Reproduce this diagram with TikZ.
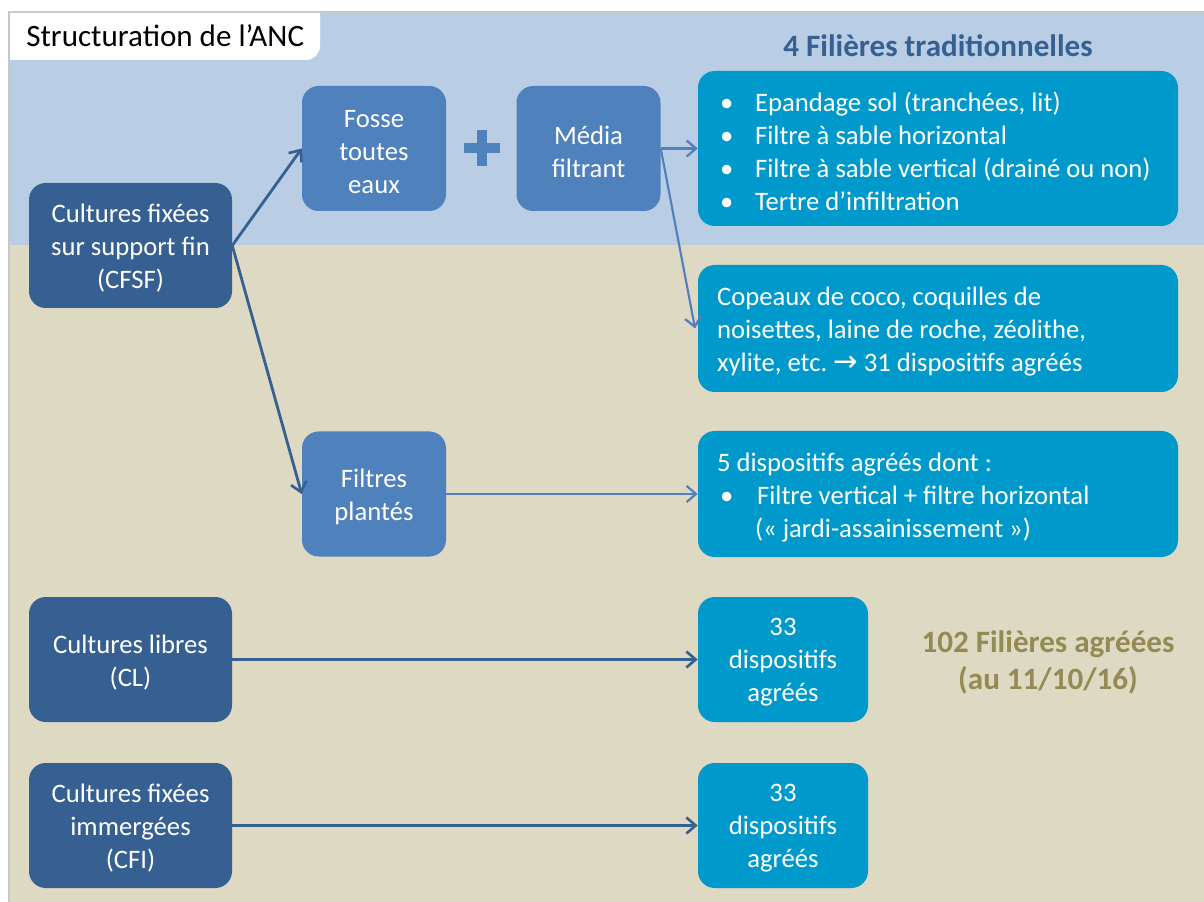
\documentclass[tikz,border=0pt]{standalone}
\usepackage{fontspec}
\setmainfont{Carlito}
\newfontfamily\djv{DejaVu Sans}
\usetikzlibrary{arrows.meta}

\definecolor{bandblue}{HTML}{B9CDE5}
\definecolor{bandtan}{HTML}{DDD9C3}
\definecolor{darkbx}{HTML}{376092}
\definecolor{midbx}{HTML}{4F81BD}
\definecolor{cyanbx}{HTML}{0099CC}
\definecolor{olivetxt}{HTML}{948A54}
\definecolor{framegray}{HTML}{C8C8C8}

\begin{document}
\frenchspacing
\begin{tikzpicture}[x=0.75pt,y=-0.75pt,
  box/.style={rounded corners=12.5pt, inner sep=0pt},
  boxtxt/.style={text=white, font=\fontsize{20}{24.75}\selectfont, align=center, inner sep=0pt, yshift=-2.3pt},
  widetxt/.style={boxtxt, text width=334pt, align=flush left},
  darkbox/.style={box, fill=darkbx, minimum width=152.25pt, minimum height=93.75pt},
  midbox/.style={box, fill=midbx, minimum width=108pt, minimum height=93.75pt},
  cyanbox/.style={box, fill=cyanbx},
  widebox/.style={cyanbox, minimum width=360pt},
  arrdark/.style={-{Straight Barb[length=7pt,width=12pt,line width=2pt]}, line width=2.1pt, draw=darkbx},
  arrmid/.style={-{Straight Barb[length=7pt,width=12pt,line width=1.7pt]}, line width=1.6pt, draw=midbx},
]
% canvas
\path[use as bounding box, fill=white] (0,0) rectangle (1204,902);
\fill[bandtan] (9,245) rectangle (1204,902);
\fill[bandblue] (9,12) rectangle (1204,245);
% title tab
\fill[white] (9,12) -- (320,12) [rounded corners=10.5pt] -- (320,60) [sharp corners] -- (9,60) -- cycle;
\draw[framegray, line width=0.9pt] (9,902) -- (9,12) -- (1204,12);
\node[anchor=base west, font=\fontsize{23.3}{28}\selectfont, inner sep=0pt] (title) at (26,47) {Structuration de l’ANC};

% headings
\node[font=\fontsize{23.3}{28}\selectfont\bfseries, text=darkbx, inner sep=0pt] (head1) at (938,46) {4 Filières traditionnelles};
\node[font=\fontsize{23.3}{27.75}\selectfont\bfseries, text=olivetxt, align=center, inner sep=0pt] (head2) at (1048,662) {102 Filières agréées\\(au 11/10/16)};

% left boxes
\node[darkbox, label={[boxtxt, name=cfsf-t]center:{Cultures fixées\\sur support fin\\(CFSF)}}] (cfsf) at (130.5,245.5) {};
\node[darkbox, label={[boxtxt, name=cl-t]center:{Cultures libres\\(CL)}}] (cl) at (130.5,659.5) {};
\node[darkbox, label={[boxtxt, name=cfi-t]center:{Cultures fixées\\immergées\\(CFI)}}] (cfi) at (130.5,825.5) {};

% middle boxes
\node[midbox, label={[boxtxt, name=fosse-t]center:{Fosse\\toutes\\eaux}}] (fosse) at (374,148.5) {};
\node[midbox, label={[boxtxt, name=media-t]center:{Média\\filtrant}}] (media) at (588.5,148.5) {};
\node[midbox, label={[boxtxt, name=plantes-t]center:{Filtres\\plantés}}] (plantes) at (374,494) {};

% plus sign
\fill[midbx] (463.5,143) rectangle (499.5,153.5);
\fill[midbx] (476.5,130.5) rectangle (487,166.5);

% right boxes
\node[widebox, minimum height=116.25pt, label={[widetxt, name=trad-t]center:{%
\makebox[29.8pt][l]{\hspace{3.5pt}•}Epandage sol (tranchées, lit)\\
\makebox[29.8pt][l]{\hspace{3.5pt}•}Filtre à sable horizontal\\
\makebox[29.8pt][l]{\hspace{3.5pt}•}Filtre à sable vertical (drainé ou non)\\
\makebox[29.8pt][l]{\hspace{3.5pt}•}Tertre d’infiltration}}] (trad) at (938,148.5) {};
\node[widebox, minimum height=95.25pt, label={[widetxt, name=copeaux-t]center:{%
\hspace*{1.3pt}Copeaux de coco, coquilles de\\
\hspace*{1.3pt}noisettes, laine de roche, zéolithe,\\
\hspace*{1.3pt}xylite, etc. {\djv\fontsize{22}{20}\selectfont →} 31 dispositifs agréés}}] (copeaux) at (938,328.5) {};
\node[widebox, minimum height=94.5pt, label={[widetxt, name=cinq-t]center:{%
\hspace*{1.3pt}5 dispositifs agréés dont :\\
\makebox[31.3pt][l]{\hspace{3.5pt}•}Filtre vertical + filtre horizontal\\
\hspace*{29.8pt}(« jardi-assainissement »)}}] (cinq) at (938,494) {};
\node[cyanbox, minimum width=127.5pt, minimum height=93.75pt, label={[boxtxt, name=cla-t]center:{33\\dispositifs\\agréés}}] (cla) at (783,659.5) {};
\node[cyanbox, minimum width=127.5pt, minimum height=93.75pt, label={[boxtxt, name=cfia-t]center:{33\\dispositifs\\agréés}}] (cfia) at (783,825.5) {};

% connectors
\draw[arrdark] (cfsf.east) -- (fosse.west);
\draw[arrdark] (cfsf.east) -- (plantes.west);
\draw[arrmid] (media.east) -- (trad.west);
\draw[arrmid] (media.east) -- ([xshift=-2pt]copeaux.west);
\draw[arrmid] (plantes.east) -- (cinq.west);
\draw[arrdark] (cl.east) -- (cla.west);
\draw[arrdark] (cfi.east) -- (cfia.west);
\end{tikzpicture}
\end{document}
